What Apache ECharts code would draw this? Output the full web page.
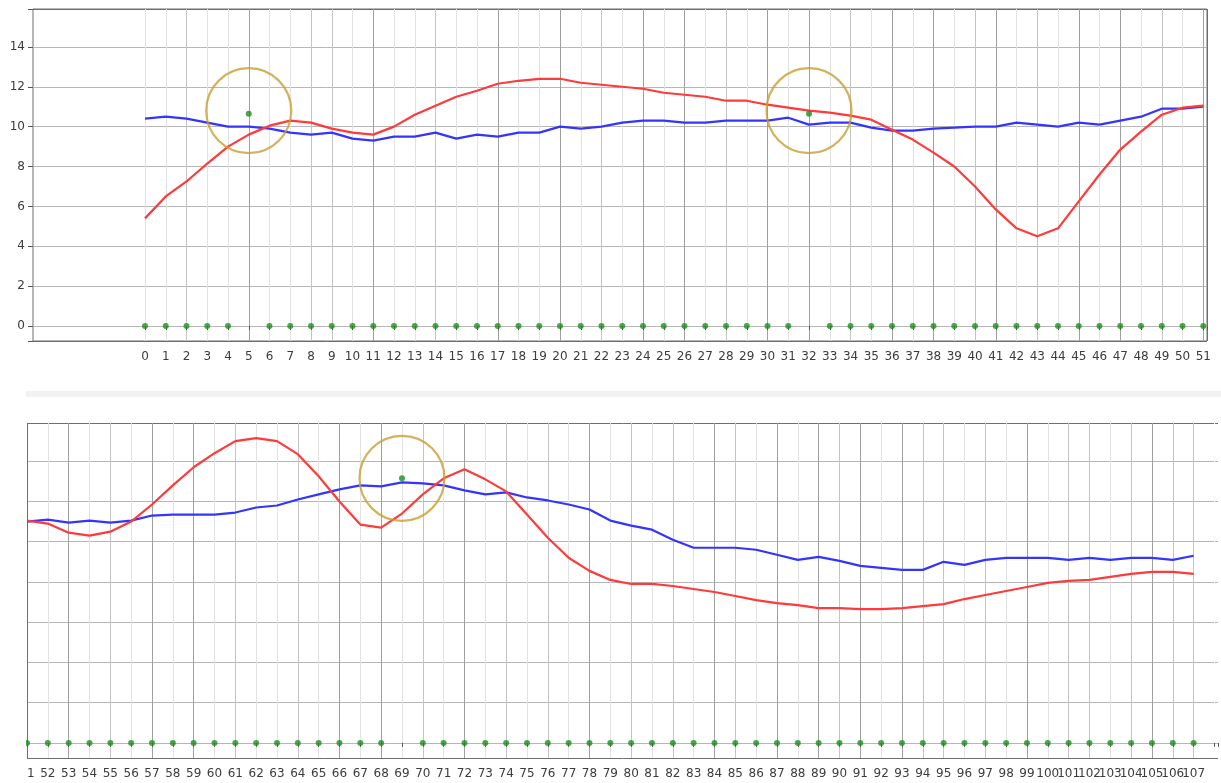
<!DOCTYPE html>
<html>
<head>
<meta charset="utf-8">
<script src="https://cdn.jsdelivr.net/npm/echarts@6/dist/echarts.min.js"></script>
<style>
  html, body { margin: 0; padding: 0; background: #fff; }
  #chart { width: 1221px; height: 783px; }
</style>
</head>
<body>
<div id="chart"></div>
<script>
//------------data, top panel (0 - 51)

var topIdx = [0,1,2,3,4,5,6,7,8,9,10,11,12,13,14,15,16,17,18,19,20,21,22,23,24,25,
  26,27,28,29,30,31,32,33,34,35,36,37,38,39,40,41,42,43,44,45,46,47,48,49,50,51];
var redTop = [5.4,6.5,7.25,8.15,9.0,9.6,10.05,10.3,10.2,9.9,9.7,9.6,10.0,10.6,11.05,11.5,11.8,12.15,
  12.3,12.4,12.4,12.2,12.1,12.0,11.9,11.7,11.6,11.5,11.3,11.3,11.1,10.95,10.8,10.7,10.55,10.35,
  9.85,9.35,8.7,8.0,7.0,5.85,4.9,4.5,4.9,6.25,7.6,8.85,9.75,10.6,10.95,11.05];
var blueTop = [10.4,10.5,10.4,10.2,10.0,10.0,9.9,9.7,9.6,9.7,9.4,9.3,9.5,9.5,9.7,9.4,9.6,9.5,
  9.7,9.7,10.0,9.9,10.0,10.2,10.3,10.3,10.2,10.2,10.3,10.3,10.3,10.45,10.1,10.2,10.2,9.95,
  9.8,9.8,9.9,9.95,10.0,10.0,10.2,10.1,10.0,10.2,10.1,10.3,10.5,10.9,10.9,11.0];
var dotsTop = [0,0,0,0,0,10.65,0,0,0,0,0,0,0,0,0,0,0,0,0,0,0,0,0,0,0,0,
  0,0,0,0,0,0,10.65,0,0,0,0,0,0,0,0,0,0,0,0,0,0,0,0,0,0,0];
var ringTopIdx = [5, 32];
var ringTopVal = [10.8, 10.8];

//------------data, bottom panel (51 - 107)

var botIdx = [51,52,53,54,55,56,57,58,59,60,61,62,63,64,65,66,67,68,69,70,71,72,73,74,75,76,77,78,79,
  80,81,82,83,84,85,86,87,88,89,90,91,92,93,94,95,96,97,98,99,100,101,102,103,104,105,106,107];
var redBot = [11.05,10.9,10.45,10.3,10.5,11.0,11.85,12.8,13.7,14.4,15.0,15.15,15.0,14.35,13.25,12.0,
  10.85,10.7,11.4,12.35,13.15,13.6,13.1,12.5,11.35,10.2,9.2,8.55,8.1,7.9,7.9,7.8,7.65,7.5,7.3,7.1,
  6.95,6.85,6.7,6.7,6.65,6.65,6.7,6.8,6.9,7.15,7.35,7.55,7.75,7.95,8.05,8.1,8.25,8.4,8.5,8.5,8.4];
var blueBot = [11.0,11.1,10.95,11.05,10.95,11.05,11.3,11.35,11.35,11.35,11.45,11.7,11.8,12.1,12.35,12.6,
  12.8,12.75,12.95,12.9,12.8,12.55,12.35,12.45,12.2,12.05,11.85,11.6,11.05,10.8,10.6,10.1,9.7,9.7,9.7,
  9.6,9.35,9.1,9.25,9.05,8.8,8.7,8.6,8.6,9.0,8.85,9.1,9.2,9.2,9.2,9.1,9.2,9.1,9.2,9.2,9.1,9.3];
var dotsBot = [0,0,0,0,0,0,0,0,0,0,0,0,0,0,0,0,0,0,13.15,0,0,0,0,0,0,0,0,0,0,
  0,0,0,0,0,0,0,0,0,0,0,0,0,0,0,0,0,0,0,0,0,0,0,0,0,0,0,0];
var ringBotIdx = [69];
var ringBotVal = [13.15];

//------------styling helpers

var FONT = "'DejaVu Sans', sans-serif";
var FRAME = '#6e6e6e';
var shade = { L: '#e2e2e2', M: '#c4c4c4', D: '#a0a0a0', F: FRAME, W: '#ffffff' };
function shades(s) { return s.split('').map(function (c) { return shade[c]; }); }
// the screenshot was downscaled, so the vertical lines alias into light / dark ones
// (one letter per tick, last ones sit on the frame / past the visible end)
var vTop = shades('LLMLLDLLMMLDLLMLLDLLDLMLDLDLMLDLDLMLDLDLMDLMLDLDLMLDF');
var vBot = shades('FLDLMLDLDLMLLMLDLDLMLDLMLMLDLMLMLDMLDLDMDLDMMLMLDLMMLMDMMWW');
// horizontal: -0.75 (frame), 0..14, 15.9 (frame)
var hLines = [FRAME, '#b7b7b7', '#b7b7b7', '#b7b7b7', '#b7b7b7', '#b7b7b7', '#b7b7b7', '#b7b7b7', '#b7b7b7', FRAME];

function pairs(xs, ys) { return xs.map(function (x, i) { return [x, ys[i]]; }); }
function intLabel(v) { return Math.round(v) === v ? String(v) : ''; }
function botLabel(v) { return (Math.round(v) === v && v <= 107) ? String(v) : ''; }
function evenLabel(v) { return (Math.abs(v % 2) < 1e-9) ? String(v) : ''; }

var yMin = -0.75, yMax = 15.9;

var chart = echarts.init(document.getElementById('chart'));

function lineSeries(name, color, xi, yi, data) {
  return {
    name: name, type: 'line', xAxisIndex: xi, yAxisIndex: yi,
    data: data, symbol: 'none', smooth: false, silent: true,
    lineStyle: { color: color, width: 2.2 }, z: 3
  };
}
function dotSeries(xi, yi, data) {
  return {
    type: 'scatter', xAxisIndex: xi, yAxisIndex: yi, data: data,
    symbolSize: 6, silent: true, itemStyle: { color: '#1f8f1f' }, z: 4
  };
}
function ringSeries(xi, yi, data) {
  return {
    type: 'scatter', xAxisIndex: xi, yAxisIndex: yi, data: data,
    symbolSize: 85, silent: true, z: 5,
    itemStyle: { color: 'rgba(0,0,0,0)', borderColor: '#c99f2f', borderWidth: 2.2 }
  };
}

var labelStyle = { color: '#3c3c3c', fontSize: 12, fontFamily: FONT };

var option = {
  backgroundColor: '#fff',
  animation: false,
  graphic: [
    {
      type: 'rect', silent: true,
      shape: { x: 26, y: 391, width: 1195, height: 6 },
      style: { fill: '#f2f2f2' }
    },
    // the lower view is clipped at its left edge
    {
      type: 'rect', silent: true, z: 100,
      shape: { x: 0, y: 400, width: 26, height: 383 },
      style: { fill: '#fff' }
    }
  ],
  grid: [
    // top frame with y labels
    { left: 33, top: 9, width: 1174, height: 332, show: true, borderColor: FRAME, borderWidth: 1, backgroundColor: 'rgba(0,0,0,0)' },
    // top data area, starts at index 0
    { left: 145, top: 9, width: 1062, height: 332, show: false },
    // bottom panel, frame comes from the edge split lines
    { left: 27, top: 423, width: 1195, height: 335, show: false }
  ],
  xAxis: [
    { gridIndex: 0, type: 'value', min: 0, max: 1, show: false },
    {
      gridIndex: 1, type: 'value', min: 0, max: 51.18, interval: 1,
      axisLine: { show: false },
      axisTick: { show: true, length: 4, lineStyle: { color: '#555' } },
      axisLabel: Object.assign({ formatter: intLabel, margin: 10 }, labelStyle),
      splitLine: { show: true, lineStyle: { color: vTop, width: 1 } }
    },
    {
      gridIndex: 2, type: 'value', min: 51, max: 108.17, interval: 1,
      axisLine: { show: false },
      axisTick: { show: true, length: 4, lineStyle: { color: '#555' } },
      axisLabel: Object.assign({ formatter: botLabel, margin: 10 }, labelStyle),
      splitLine: { show: true, lineStyle: { color: vBot, width: 1 } }
    }
  ],
  yAxis: [
    {
      gridIndex: 0, type: 'value', min: yMin, max: yMax, splitNumber: 8,
      axisLine: { show: false },
      axisTick: { show: true, length: 5, lineStyle: { color: '#555' } },
      axisLabel: Object.assign({ formatter: evenLabel, margin: 8 }, labelStyle),
      splitLine: { show: true, lineStyle: { color: hLines, width: 1 } }
    },
    { gridIndex: 1, type: 'value', min: yMin, max: yMax, show: false },
    {
      gridIndex: 2, type: 'value', min: yMin, max: yMax, splitNumber: 8,
      axisLine: { show: false }, axisTick: { show: false }, axisLabel: { show: false },
      splitLine: { show: true, lineStyle: { color: hLines, width: 1 } }
    }
  ],
  series: [
    lineSeries('blue', '#3434ff', 1, 1, pairs(topIdx, blueTop)),
    lineSeries('red', '#ff3a3a', 1, 1, pairs(topIdx, redTop)),
    dotSeries(1, 1, pairs(topIdx, dotsTop)),
    ringSeries(1, 1, pairs(ringTopIdx, ringTopVal)),
    lineSeries('blue', '#3434ff', 2, 2, pairs(botIdx, blueBot)),
    lineSeries('red', '#ff3a3a', 2, 2, pairs(botIdx, redBot)),
    dotSeries(2, 2, pairs(botIdx, dotsBot)),
    ringSeries(2, 2, pairs(ringBotIdx, ringBotVal))
  ]
};

chart.setOption(option);
</script>
</body>
</html>
